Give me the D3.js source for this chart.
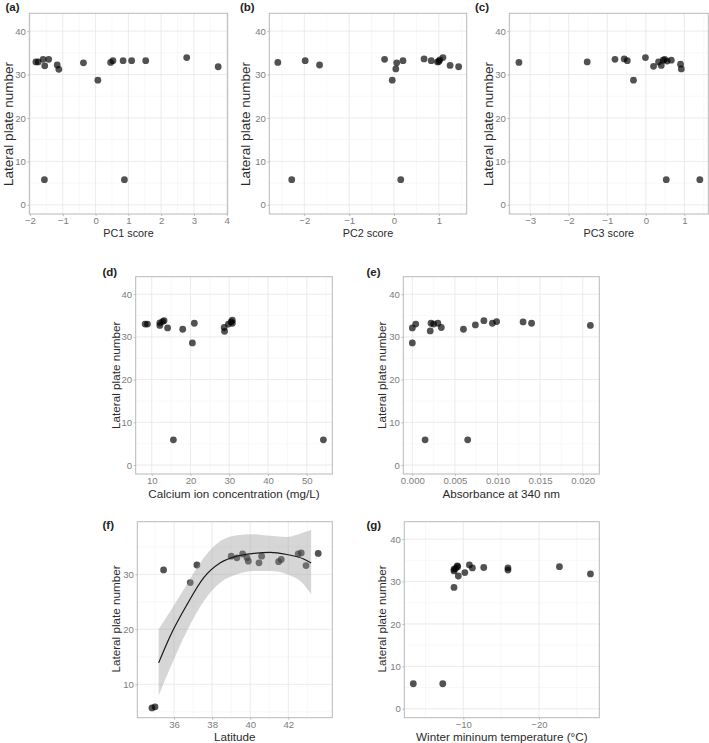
<!DOCTYPE html>
<html><head><meta charset="utf-8">
<script src="https://cdn.jsdelivr.net/npm/d3@7"></script>
<style>body{margin:0;background:#fff}svg{display:block}</style>
</head><body>
<script>
// ---- data ----
const yTicksMain = [0, 10, 20, 30, 40];
const yTicksLat = [10, 20, 30];

const pc1 = [-1.82, -1.75, -1.60, -1.55, -1.43, -1.17, -1.12, -0.37, 0.07, 0.46, 0.53, 0.84, 1.10, 1.53, 2.78, 3.74, -1.56, 0.88];
const platesA = [32.9, 32.9, 33.5, 32.0, 33.5, 32.2, 31.2, 32.7, 28.7, 32.8, 33.2, 33.2, 33.2, 33.2, 33.9, 31.8, 5.8, 5.8];
const pc1Ticks = [-2, -1, 0, 1, 2, 3, 4];

const pc2 = [-2.59, -1.98, -1.66, -0.21, 0.06, 0.04, 0.20, -0.04, 0.67, 0.83, 0.97, 1.00, 1.02, 1.09, 1.25, 1.44, -2.28, 0.15];
const platesB = [32.8, 33.2, 32.2, 33.5, 32.7, 31.3, 33.2, 28.7, 33.6, 33.2, 32.9, 33.0, 33.4, 33.9, 32.1, 31.8, 5.8, 5.8];
const pc2Ticks = [-2, -1, 0, 1];

const pc3 = [-3.29, -1.52, -0.80, -0.56, -0.48, -0.32, -0.01, 0.20, 0.33, 0.40, 0.45, 0.49, 0.66, 0.90, 0.92, 0.55, 0.53, 1.40];
const platesC = [32.8, 32.9, 33.5, 33.6, 33.2, 28.7, 33.9, 31.9, 32.9, 32.1, 33.3, 33.5, 33.3, 32.4, 31.3, 33.1, 5.8, 5.8];
const pc3Ticks = [-3, -2, -1, 0, 1];

const calcium = [8.3, 8.9, 12.1, 12.1, 12.8, 13.2, 14.1, 15.6, 18.0, 20.5, 21.0, 28.7, 28.8, 29.8, 30.5, 30.8, 30.8, 54.3];
const platesD = [33.0, 33.0, 33.3, 32.7, 33.6, 33.8, 32.1, 5.9, 31.8, 28.6, 33.2, 32.2, 31.3, 33.0, 33.5, 33.9, 33.2, 5.9];
const calciumTicks = [10, 20, 30, 40, 50];

const absorb = [0.0000, 0.0000, 0.0004, 0.0015, 0.0021, 0.0022, 0.0025, 0.0030, 0.0034, 0.0060, 0.0065, 0.0074, 0.0084, 0.0094, 0.0099, 0.0130, 0.0140, 0.0209];
const platesE = [32.1, 28.6, 33.0, 5.9, 31.4, 33.2, 33.0, 33.2, 32.2, 31.8, 5.9, 32.8, 33.8, 33.2, 33.6, 33.5, 33.2, 32.7];
const absorbTicks = [0, 0.005, 0.010, 0.015, 0.020];

const latitude = [34.84, 35.0, 35.45, 36.85, 37.2, 39.0, 39.3, 39.6, 39.83, 39.9, 40.46, 40.6, 41.49, 41.63, 42.52, 42.68, 42.93, 43.57];
const platesF = [5.7, 5.9, 30.8, 28.5, 31.7, 33.3, 33.0, 33.7, 33.0, 32.4, 32.1, 33.3, 32.3, 32.7, 33.7, 33.9, 31.6, 33.8];
const latTicks = [36, 38, 40, 42];
// smooth fit and its confidence band
const fitLat = [35.19, 35.8, 36.68, 37.56, 38.43, 39.3, 40.18, 41.05, 41.93, 42.8, 43.2];
const fitMid = [13.9, 18.8, 24.5, 29.4, 32.1, 33.3, 33.8, 34.0, 33.6, 32.8, 32.05];
const fitLow = [7.9, 13.0, 19.7, 25.1, 28.5, 30.0, 30.6, 30.6, 30.0, 28.2, 26.4];
const fitHigh = [20.0, 23.3, 28.2, 33.0, 36.05, 37.1, 37.3, 37.0, 36.8, 37.6, 38.05];

const winterTemp = [-3.39, -7.28, -8.77, -8.77, -9.0, -9.2, -9.26, -9.34, -10.2, -10.8, -11.2, -12.7, -15.9, -15.9, -22.7, -26.8, -8.77];
const platesG = [5.9, 5.9, 32.5, 32.9, 33.1, 33.7, 33.5, 31.3, 32.1, 33.9, 33.2, 33.3, 33.2, 32.7, 33.5, 31.8, 28.6];
const tempTicks = [-10, -20];

// ---- drawing ----
const W = 709, H = 743;
const FONT = "'Liberation Sans', Arial, Helvetica, sans-serif";
const svg = d3.select("body").append("svg").attr("width", W).attr("height", H)
  .style("font-family", FONT);

function minorOf(ticks, domain) {
  const lo = Math.min(...domain), hi = Math.max(...domain);
  const step = ticks.length > 1 ? Math.abs(ticks[1] - ticks[0]) : 10;
  const s = [...ticks].sort((a, b) => a - b);
  const out = [];
  for (let v = s[0] - step / 2; v <= s[s.length - 1] + step / 2 + 1e-9; v += step) {
    if (v >= lo && v <= hi) out.push(v);
  }
  return out;
}

function panel(cfg) {
  const g = svg.append("g");
  const x = d3.scaleLinear().domain(cfg.xDomain).range([cfg.x0, cfg.x1]);
  const y = d3.scaleLinear().domain(cfg.yDomain).range([cfg.y1, cfg.y0]);
  // minor grid
  g.selectAll(".mx").data(minorOf(cfg.xTicks, cfg.xDomain)).join("line")
    .attr("x1", d => x(d)).attr("x2", d => x(d)).attr("y1", cfg.y0).attr("y2", cfg.y1)
    .attr("stroke", "#f3f3f3").attr("stroke-width", 0.6);
  g.selectAll(".my").data(minorOf(cfg.yTicks, cfg.yDomain)).join("line")
    .attr("y1", d => y(d)).attr("y2", d => y(d)).attr("x1", cfg.x0).attr("x2", cfg.x1)
    .attr("stroke", "#f3f3f3").attr("stroke-width", 0.6);
  // major grid
  g.selectAll(".gx").data(cfg.xTicks).join("line")
    .attr("x1", d => x(d)).attr("x2", d => x(d)).attr("y1", cfg.y0).attr("y2", cfg.y1)
    .attr("stroke", "#e6e6e6").attr("stroke-width", 0.8);
  g.selectAll(".gy").data(cfg.yTicks).join("line")
    .attr("y1", d => y(d)).attr("y2", d => y(d)).attr("x1", cfg.x0).attr("x2", cfg.x1)
    .attr("stroke", "#e6e6e6").attr("stroke-width", 0.8);

  // points
  g.append("g").selectAll("circle").data(cfg.xs.map((v, i) => [v, cfg.ys[i]])).join("circle")
    .attr("cx", d => x(d[0])).attr("cy", d => y(d[1])).attr("r", 3.4)
    .attr("fill", "#000").attr("fill-opacity", 0.68);

  if (cfg.fit) {
    const f = cfg.fit;
    const rows = f.x.map((v, i) => ({x: v, m: f.mid[i], lo: f.lo[i], hi: f.hi[i]}));
    g.append("path").datum(rows)
      .attr("d", d3.area().x(d => x(d.x)).y0(d => y(d.lo)).y1(d => y(d.hi)).curve(d3.curveMonotoneX))
      .attr("fill", "#999").attr("fill-opacity", 0.4);
    g.append("path").datum(rows)
      .attr("d", d3.line().x(d => x(d.x)).y(d => y(d.m)).curve(d3.curveMonotoneX))
      .attr("fill", "none").attr("stroke", "#1a1a1a").attr("stroke-width", 1.2);
  }

  // border
  g.append("rect").attr("x", cfg.x0).attr("y", cfg.y0)
    .attr("width", cfg.x1 - cfg.x0).attr("height", cfg.y1 - cfg.y0)
    .attr("fill", "none").attr("stroke", "#b8b8b8").attr("stroke-width", 1);

  // axes
  const xAxis = d3.axisBottom(x).tickValues(cfg.xTicks).tickSize(2).tickPadding(1).tickFormat(cfg.xFormat || d3.format("d"));
  const ax = g.append("g").attr("transform", `translate(0,${cfg.y1})`).call(xAxis);
  const yAxis = d3.axisLeft(y).tickValues(cfg.yTicks).tickSize(2).tickPadding(1.5).tickFormat(d3.format("d"));
  const ay = g.append("g").attr("transform", `translate(${cfg.x0},0)`).call(yAxis);
  [ax, ay].forEach(a => {
    a.select(".domain").remove();
    a.selectAll(".tick line").attr("stroke", "#b0b0b0").attr("stroke-width", 0.8);
    a.selectAll(".tick text").attr("fill", "#7d7d7d").style("font-size", "9.6px").style("font-family", FONT);
  });

  // titles
  g.append("text").attr("x", (cfg.x0 + cfg.x1) / 2).attr("y", cfg.xTitleY)
    .attr("text-anchor", "middle").attr("fill", "#2a2a2a")
    .style("font-size", cfg.xTitleSize + "px").text(cfg.xTitle);
  g.append("text").attr("transform", `translate(${cfg.yTitleX},${cfg.yTitleC}) rotate(-90)`)
    .attr("text-anchor", "middle").attr("fill", "#2a2a2a")
    .style("font-size", cfg.yTitleSize + "px").text("Lateral plate number");
  g.append("text").attr("x", cfg.labX).attr("y", cfg.labY)
    .attr("fill", "#222").style("font-size", "11.5px").style("font-weight", "bold").text(cfg.label);
}

const yMain = [-2.1, 44.1];
const row1 = {y0: 13.3, y1: 214, xTitleY: 236.5, xTitleSize: 10.8, yTitleSize: 13.5, yTitleC: 124, labY: 10.5};
const row2 = {y0: 276.7, y1: 474, xTitleY: 497.5, xTitleSize: 11.7, yTitleSize: 11.7, yTitleC: 375.3, labY: 276};
const row3 = {y0: 521.7, y1: 717.7, xTitleY: 741.2, xTitleSize: 11.7, yTitleSize: 11.7, yTitleC: 619, labY: 529};

panel({...row1, x0: 29.3, x1: 227.7, xDomain: [-2.021, 4.03], yDomain: yMain, xTicks: pc1Ticks, yTicks: yTicksMain,
  xs: pc1, ys: platesA, xTitle: "PC1 score", yTitleX: 12.5, label: "(a)", labX: 5.5});
panel({...row1, x0: 269.3, x1: 466.7, xDomain: [-2.78, 1.62], yDomain: yMain, xTicks: pc2Ticks, yTicks: yTicksMain,
  xs: pc2, ys: platesB, xTitle: "PC2 score", yTitleX: 249.5, label: "(b)", labX: 240});
panel({...row1, x0: 509.3, x1: 708.3, xDomain: [-3.54, 1.62], yDomain: yMain, xTicks: pc3Ticks, yTicks: yTicksMain,
  xs: pc3, ys: platesC, xTitle: "PC3 score", yTitleX: 493, label: "(c)", labX: 475});
panel({...row2, x0: 135.7, x1: 332.3, xDomain: [5.87, 56.6], yDomain: yMain, xTicks: calciumTicks, yTicks: yTicksMain,
  xs: calcium, ys: platesD, xTitle: "Calcium ion concentration (mg/L)", yTitleX: 119.5, label: "(d)", labX: 102.5});
panel({...row2, x0: 403.3, x1: 599.3, xDomain: [-0.00106, 0.02195], yDomain: yMain, xTicks: absorbTicks, yTicks: yTicksMain,
  xs: absorb, ys: platesE, xTitle: "Absorbance at 340 nm", yTitleX: 385.5, label: "(e)", labX: 366.5, xFormat: d3.format(".3f")});
panel({...row3, x0: 137.3, x1: 332.3, xDomain: [34.07, 44.31], yDomain: [3.93, 39.57], xTicks: latTicks, yTicks: yTicksLat,
  xs: latitude, ys: platesF, xTitle: "Latitude", yTitleX: 119.5, label: "(f)", labX: 102.5,
  fit: {x: fitLat, mid: fitMid, lo: fitLow, hi: fitHigh}});
panel({...row3, x0: 404.3, x1: 599.3, xDomain: [-2.2, -27.97], yDomain: yMain, xTicks: tempTicks, yTicks: yTicksMain,
  xs: winterTemp, ys: platesG, xTitle: "Winter mininum temperature (°C)", yTitleX: 385.5, label: "(g)", labX: 366.5});
</script>
</body></html>
